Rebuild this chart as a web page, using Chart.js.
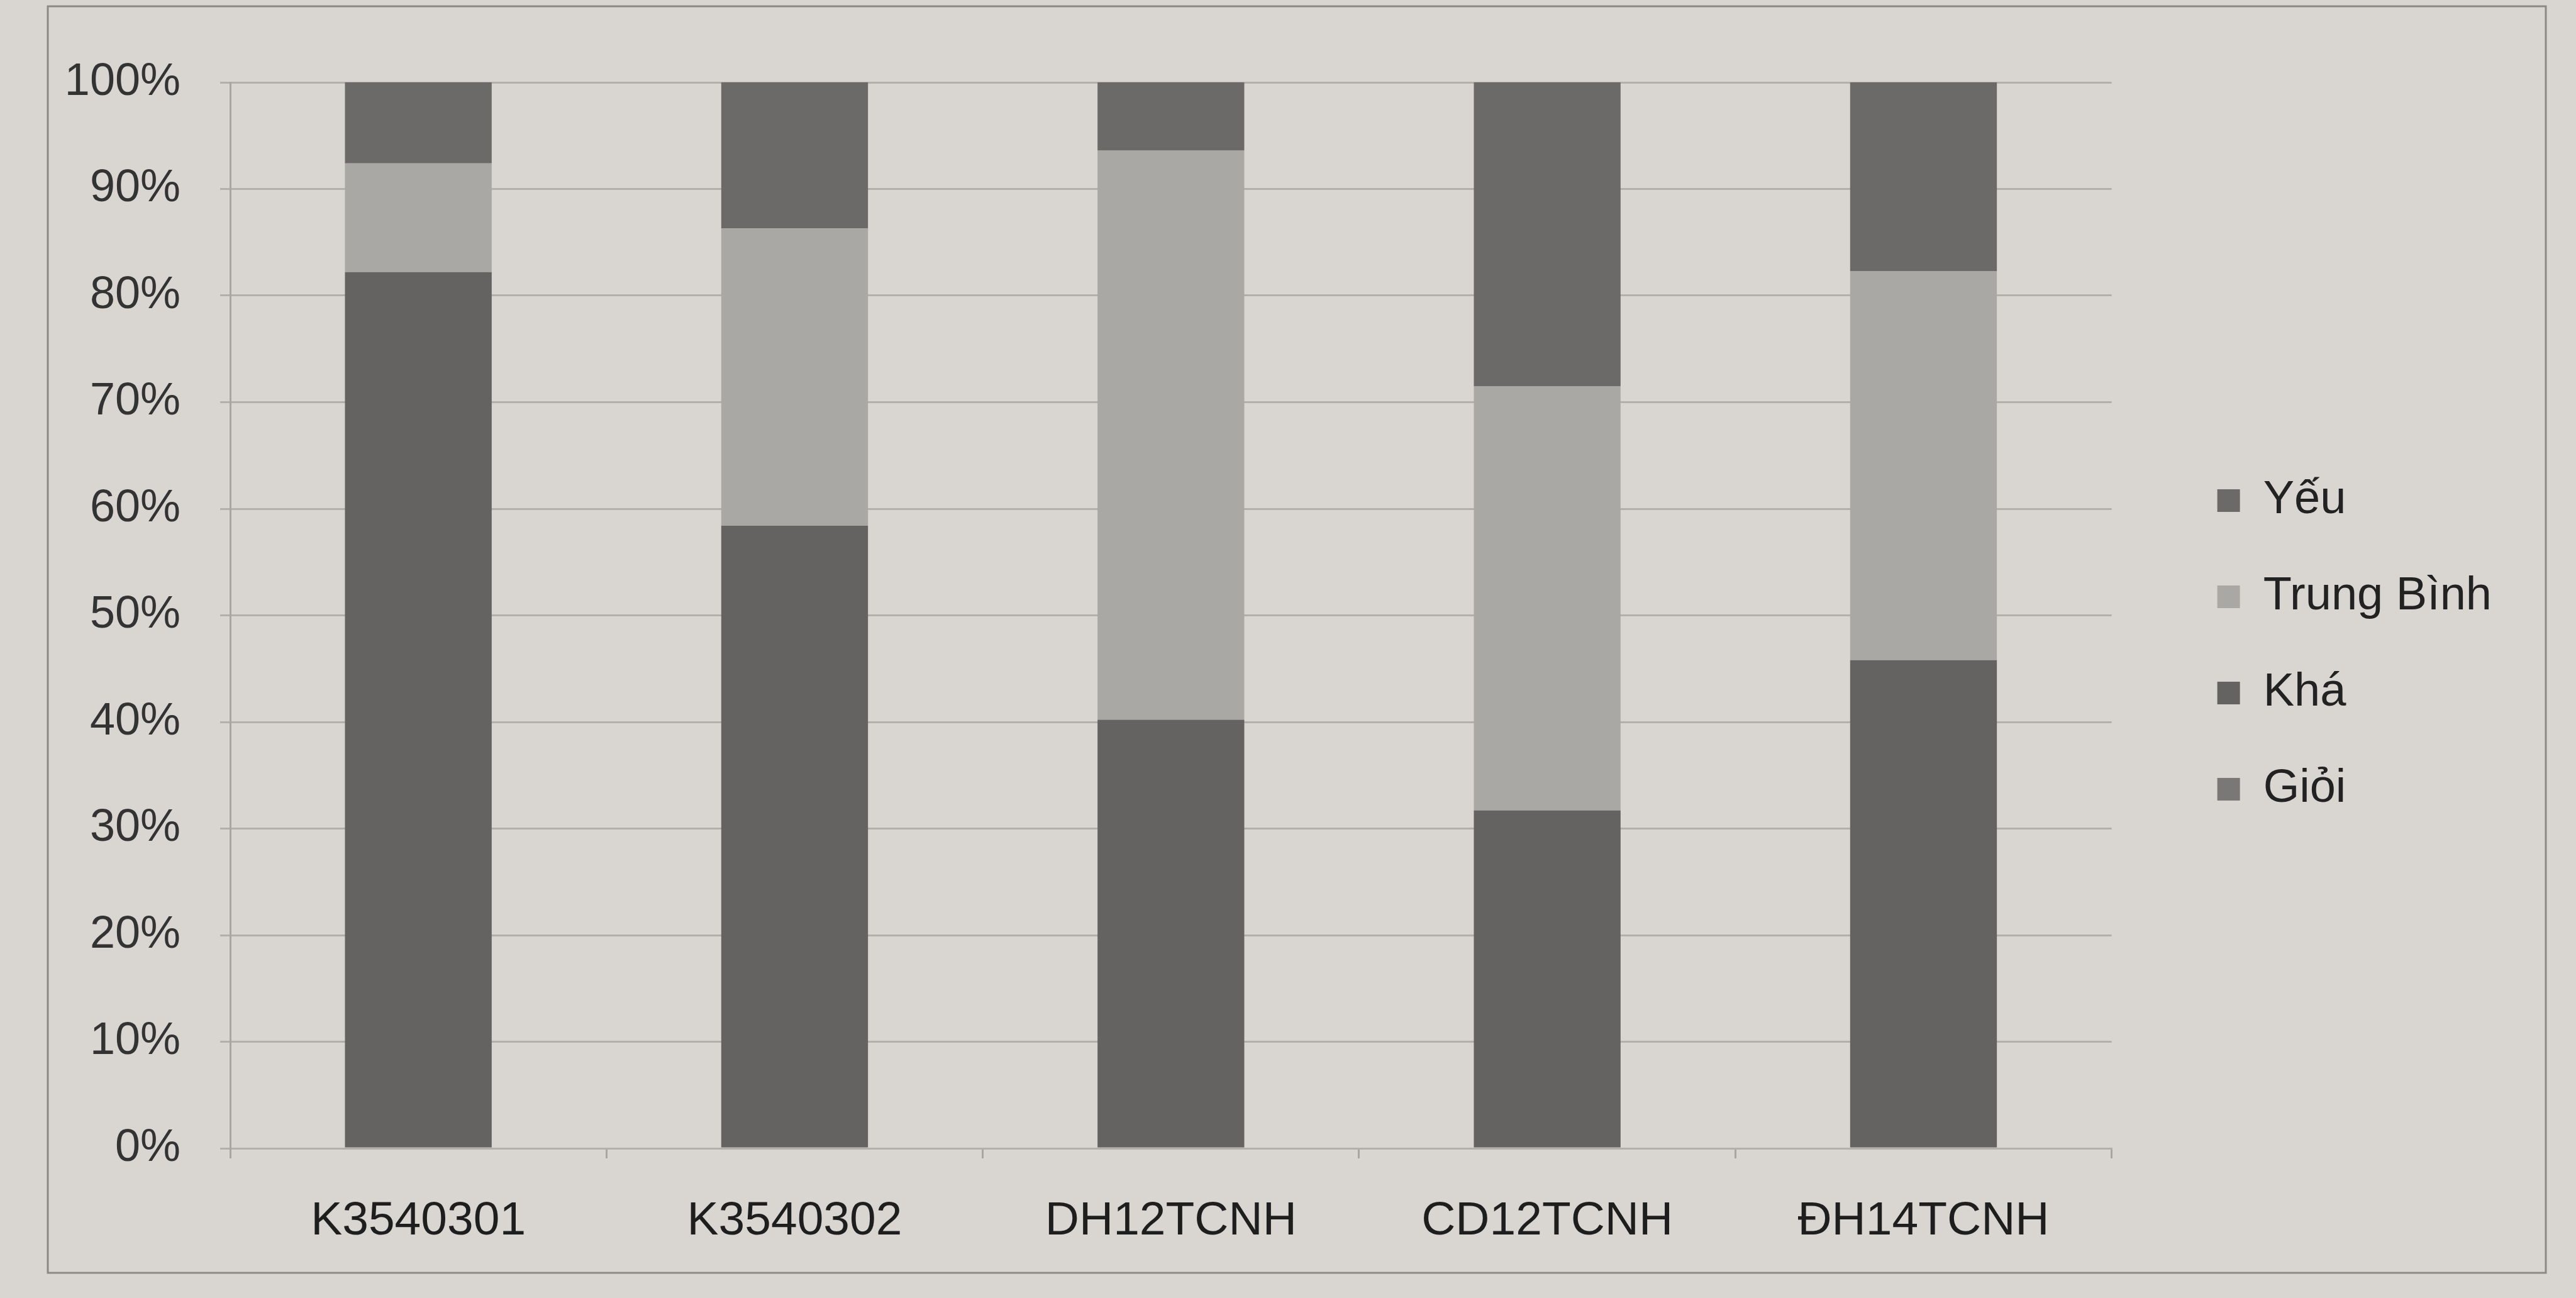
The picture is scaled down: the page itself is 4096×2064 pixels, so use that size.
<!DOCTYPE html>
<html><head><meta charset="utf-8">
<script src="https://cdn.jsdelivr.net/npm/chart.js@4.4.1/dist/chart.umd.min.js"></script>
<style>
html,body{margin:0;padding:0;background:#d9d6d2;}
#wrap{width:4096px;height:2064px;position:relative;}
canvas{display:block;}
</style>
</head><body>
<div id="wrap"><canvas id="c" width="4096" height="2064"></canvas></div>
<script>
const categories = ['K3540301', 'K3540302', 'DH12TCNH', 'CD12TCNH', 'ĐH14TCNH'];
const seriesNames = ['Giỏi', 'Khá', 'Trung Bình', 'Yếu'];
const gioi = [0, 0, 0, 0, 0];
const kha = [82.2, 58.4, 40.2, 31.7, 45.8];
const trungBinh = [10.2, 27.9, 53.4, 39.8, 36.5];
const yeu = [7.6, 13.7, 6.4, 28.5, 17.7];
const yTickLabels = ['0%', '10%', '20%', '30%', '40%', '50%', '60%', '70%', '80%', '90%', '100%'];

const FONT = '"Liberation Sans", Arial, sans-serif';

const paperPlugin = {
  id: 'paper',
  beforeDraw(chart) {
    const ctx = chart.ctx;
    ctx.save();
    ctx.fillStyle = '#d9d6d2';
    ctx.fillRect(0, 0, chart.width, chart.height);
    ctx.strokeStyle = '#8c8985';
    ctx.lineWidth = 3;
    ctx.strokeRect(76, 10, 3972, 2014);
    ctx.restore();
  }
};

new Chart(document.getElementById('c'), {
  type: 'bar',
  data: {
    labels: categories,
    datasets: [
      { label: seriesNames[0], data: gioi, backgroundColor: '#7a7876', borderWidth: 0 },
      { label: seriesNames[1], data: kha, backgroundColor: '#656361', borderWidth: 0 },
      { label: seriesNames[2], data: trungBinh, backgroundColor: '#aaa8a5', borderWidth: 0 },
      { label: seriesNames[3], data: yeu, backgroundColor: '#6c6a68', borderWidth: 0 }
    ]
  },
  options: {
    responsive: false,
    devicePixelRatio: 1,
    animation: false,
    datasets: { bar: { barPercentage: 0.39, categoryPercentage: 1.0 } },
    layout: { padding: { left: 0, right: 124, top: 131, bottom: 0 } },
    plugins: {
      tooltip: { enabled: false },
      legend: {
        position: 'right',
        align: 'start',
        reverse: true,
        title: { display: true, text: '', font: { size: 10 }, padding: { top: 537, bottom: 0 } },
        labels: {
          font: { family: FONT, size: 74 },
          color: '#222222',
          boxWidth: 36,
          boxHeight: 36,
          padding: 79
        }
      }
    },
    scales: {
      x: {
        stacked: true,
        grid: { display: true, drawOnChartArea: false, drawTicks: true, tickLength: 16, color: '#a9a6a2', lineWidth: 3 },
        border: { display: true, color: '#b3b0ab', width: 3 },
        ticks: { font: { family: FONT, size: 75 }, color: '#1e1e1e', padding: 55, maxRotation: 0, autoSkip: false },
        afterFit(s) { s.height = 238; }
      },
      y: {
        stacked: true,
        min: 0,
        max: 100,
        grid: { color: '#b3b0ab', lineWidth: 3, drawTicks: true, tickLength: 16 },
        border: { display: true, color: '#a9a6a2', width: 3 },
        ticks: {
          stepSize: 10,
          font: { family: FONT, size: 72 },
          color: '#333333',
          padding: 63,
          callback: (v, i) => yTickLabels[i]
        },
        afterFit(s) { s.width = 366; }
      },
      gap: {
        type: 'linear',
        position: 'right',
        display: true,
        grid: { display: false, drawTicks: false },
        border: { display: false },
        ticks: { display: false },
        afterFit(s) { s.width = 89; }
      }
    }
  },
  plugins: [paperPlugin]
});
</script>
</body></html>
